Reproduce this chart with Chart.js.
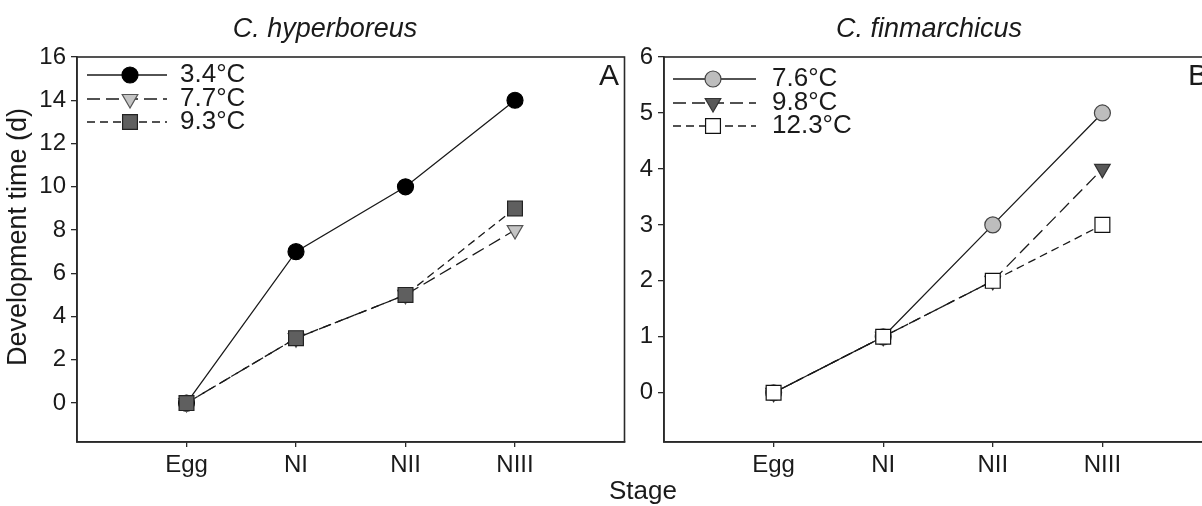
<!DOCTYPE html>
<html>
<head>
 <meta charset="utf-8" />
 <title>Development time per stage</title>
 <script src="https://cdn.jsdelivr.net/npm/chart.js@4.4.1/dist/chart.umd.min.js"></script>
 <style>
  html, body { margin: 0; padding: 0; background: #fff; overflow: hidden; width: 1202px; height: 506px; }
  canvas { position: absolute; top: 0; }
  #chartA { left: 0; }
  #chartB { left: 600px; }
 </style>
</head>
<body>
 <canvas id="chartA" width="640" height="506"></canvas>
 <canvas id="chartB" width="612" height="506"></canvas>

 <script>
  // data
  var stages = ['Egg', 'NI', 'NII', 'NIII'];

  var hypTemps = ['3.4°C', '7.7°C', '9.3°C'];
  var hyp34 = [0, 7, 10, 14];
  var hyp77 = [0, 3, 5, 8];
  var hyp93 = [0, 3, 5, 9];
  var hypTicks = [0, 2, 4, 6, 8, 10, 12, 14, 16];

  var finTemps = ['7.6°C', '9.8°C', '12.3°C'];
  var fin76 = [0, 1, 3, 5];
  var fin98 = [0, 1, 2, 4];
  var fin123 = [0, 1, 2, 3];
  var finTicks = [0, 1, 2, 3, 4, 5, 6];

  var FONT = "'Liberation Sans', Arial, sans-serif";
  var INK = '#1a1a1a';

  function toXY(vals) {
   return vals.map(function (v, i) { return { x: i + 1, y: v }; });
  }

  function series(label, vals, dash, pStyle, fill, edge, radius, rot, order) {
   return {
    label: label,
    data: toXY(vals),
    borderColor: INK,
    borderWidth: 1.3,
    borderDash: dash,
    pointStyle: pStyle,
    pointRotation: rot,
    pointRadius: radius,
    pointBackgroundColor: fill,
    pointBorderColor: edge,
    pointBorderWidth: 1.2,
    tension: 0,
    order: order
   };
  }

  // titles, box, legend and panel letter
  var decor = {
   id: 'decor',
   afterDraw: function (chart, args, o) {
    var ctx = chart.ctx;
    var a = chart.chartArea;
    ctx.save();
    ctx.strokeStyle = '#2a2a2a';
    ctx.lineWidth = 1.6;
    ctx.strokeRect(a.left, a.top, a.right - a.left, a.bottom - a.top);

    ctx.fillStyle = INK;
    ctx.textBaseline = 'middle';
    ctx.textAlign = 'center';
    ctx.font = 'italic 27px ' + FONT;
    ctx.fillText(o.title, o.titleX, 29);

    ctx.font = '30px ' + FONT;
    ctx.textAlign = o.letterAlign;
    ctx.fillText(o.letter, o.letterX, 77);

    if (o.yTitle) {
     ctx.save();
     ctx.translate(19, 237);
     ctx.rotate(-Math.PI / 2);
     ctx.textAlign = 'center';
     ctx.font = '27px ' + FONT;
     ctx.fillText(o.yTitle, 0, 0);
     ctx.restore();
    }
    if (o.xTitle) {
     ctx.textAlign = 'center';
     ctx.font = '26px ' + FONT;
     ctx.fillText(o.xTitle, o.xTitleX, 492);
    }

    // legend
    chart.data.datasets.forEach(function (ds, i) {
     var y = o.rows[i];
     ctx.strokeStyle = INK;
     ctx.lineWidth = 1.3;
     ctx.setLineDash(ds.borderDash || []);
     ctx.beginPath();
     ctx.moveTo(o.lineX0, y);
     ctx.lineTo(o.lineX1, y);
     ctx.stroke();
     ctx.setLineDash([]);
     ctx.fillStyle = ds.pointBackgroundColor;
     ctx.strokeStyle = ds.pointBorderColor;
     ctx.lineWidth = ds.pointBorderWidth;
     Chart.helpers.drawPoint(ctx, {
      pointStyle: ds.pointStyle,
      rotation: ds.pointRotation,
      radius: ds.pointRadius,
      borderWidth: ds.pointBorderWidth
     }, o.markX, y);
     ctx.fillStyle = INK;
     ctx.textAlign = 'left';
     ctx.font = '26px ' + FONT;
     ctx.fillText(ds.label, o.textX, y);
    });
    ctx.restore();
   }
  };

  function makeOptions(yMin, yMax, yTicks, yWidth, padRight, deco) {
   return {
    responsive: false,
    animation: false,
    devicePixelRatio: 1,
    layout: { autoPadding: false, padding: { top: 57, right: padRight, bottom: 0, left: 0 } },
    plugins: { legend: { display: false }, tooltip: { enabled: false }, decor: deco },
    scales: {
     x: {
      type: 'linear',
      min: 0,
      max: 5,
      afterBuildTicks: function (s) { s.ticks = stages.map(function (n, i) { return { value: i + 1 }; }); },
      afterFit: function (s) { s.height = 64; s.paddingLeft = 0; s.paddingRight = 0; },
      ticks: {
       autoSkip: false,
       maxRotation: 0,
       padding: 4,
       color: INK,
       font: { family: FONT, size: 24 },
       callback: function (v) { return stages[v - 1]; }
      },
      grid: { display: true, drawOnChartArea: false, drawTicks: true, tickLength: 5, color: '#2a2a2a', lineWidth: 1.3 },
      border: { display: true, color: '#2a2a2a', width: 1.6 }
     },
     y: {
      min: yMin,
      max: yMax,
      afterBuildTicks: function (s) { s.ticks = yTicks.map(function (v) { return { value: v }; }); },
      afterFit: function (s) { s.width = yWidth; s.paddingTop = 0; s.paddingBottom = 0; },
      ticks: { padding: 5, color: INK, font: { family: FONT, size: 24 } },
      grid: { display: true, drawOnChartArea: false, drawTicks: true, tickLength: 6, color: '#2a2a2a', lineWidth: 1.3 },
      border: { display: true, color: '#2a2a2a', width: 1.6 }
     }
    }
   };
  }

  new Chart(document.getElementById('chartA'), {
   type: 'line',
   data: {
    datasets: [
     series(hypTemps[0], hyp34, [], 'circle', '#000000', '#000000', 8, 0, 3),
     series(hypTemps[1], hyp77, [13, 6], 'triangle', '#c4c4c4', '#555555', 9, 180, 2),
     series(hypTemps[2], hyp93, [8, 5], 'rect', '#5f5f5f', '#222222', 10.5, 0, 1)
    ]
   },
   options: makeOptions(-1.8, 16, hypTicks, 77, 15.5, {
    title: 'C. hyperboreus', titleX: 325,
    letter: 'A', letterX: 609, letterAlign: 'center',
    yTitle: 'Development time (d)',
    rows: [75, 99, 122], lineX0: 87, lineX1: 167, markX: 130, textX: 180
   }),
   plugins: [decor]
  });

  new Chart(document.getElementById('chartB'), {
   type: 'line',
   data: {
    datasets: [
     series(finTemps[0], fin76, [], 'circle', '#bdbdbd', '#444444', 8, 0, 3),
     series(finTemps[1], fin98, [13, 6], 'triangle', '#585858', '#333333', 9, 180, 2),
     series(finTemps[2], fin123, [8, 5], 'rect', '#ffffff', '#111111', 10.5, 0, 1)
    ]
   },
   options: makeOptions(-0.88, 6, finTicks, 64, 0, {
    title: 'C. finmarchicus', titleX: 329,
    letter: 'B', letterX: 588, letterAlign: 'left',
    xTitle: 'Stage', xTitleX: 43,
    rows: [79, 103, 126], lineX0: 73, lineX1: 156, markX: 113, textX: 172
   }),
   plugins: [decor]
  });
 </script>
</body>
</html>
